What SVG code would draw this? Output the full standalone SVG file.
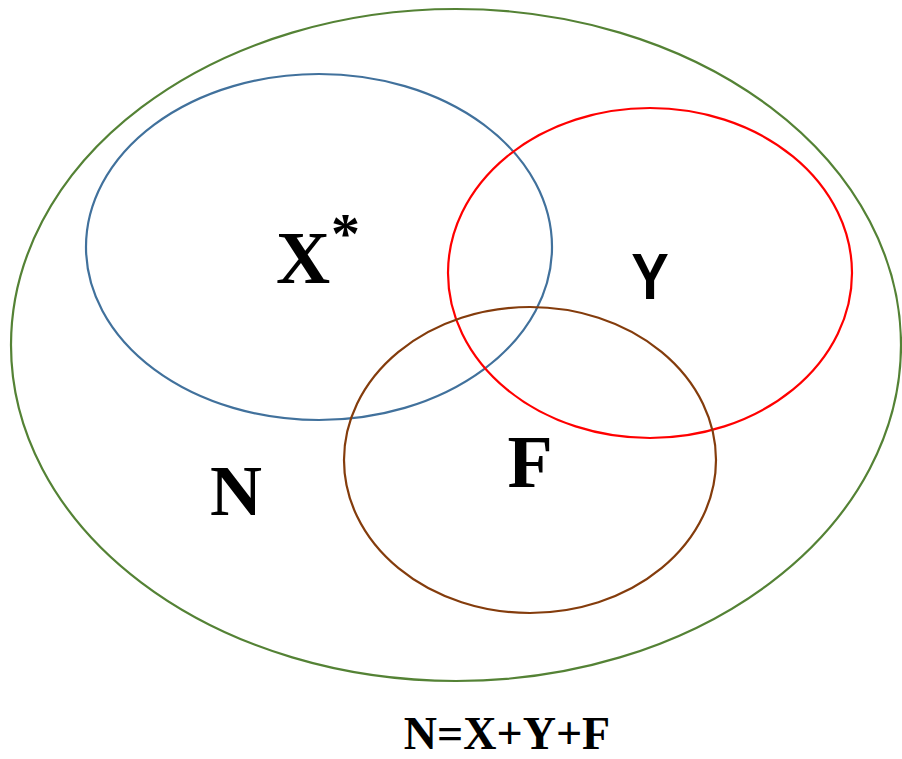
<svg xmlns="http://www.w3.org/2000/svg" width="902" height="759" viewBox="0 0 902 759">
<style>
.e{fill:none;stroke-width:2.2}
.t{font-family:"Liberation Serif","Times New Roman",serif;font-weight:bold;fill:#000}
.s{font-family:"Liberation Sans",Arial,sans-serif;font-weight:bold;fill:#000}
</style>
<rect width="902" height="759" fill="#fff"/>
<g id="N">
<ellipse class="e" cx="456" cy="345" rx="445" ry="336" stroke="#548235"/>
<text class="t" x="236" y="515" font-size="72" text-anchor="middle">N</text>
</g>
<g id="X">
<ellipse class="e" cx="319" cy="247" rx="233" ry="173" stroke="#41719C"/>
<text class="t" x="276" y="283" font-size="75">X</text>
<text class="t" x="331" y="253" font-size="58">*</text>
</g>
<g id="Y">
<ellipse class="e" cx="650" cy="273" rx="202" ry="165" stroke="#FF0000"/>
<text class="s" x="650" y="299" font-size="64" text-anchor="middle" transform="translate(650 0) scale(0.88 1) translate(-650 0)">Y</text>
</g>
<g id="F">
<ellipse class="e" cx="530" cy="460" rx="186" ry="153" stroke="#843C0C"/>
<text class="t" x="530" y="487" font-size="74" text-anchor="middle">F</text>
</g>
<g id="formula">
<text class="t" x="507" y="749" font-size="46" text-anchor="middle">N=X+Y+F</text>
</g>
<g id="connectors"/>
</svg>
